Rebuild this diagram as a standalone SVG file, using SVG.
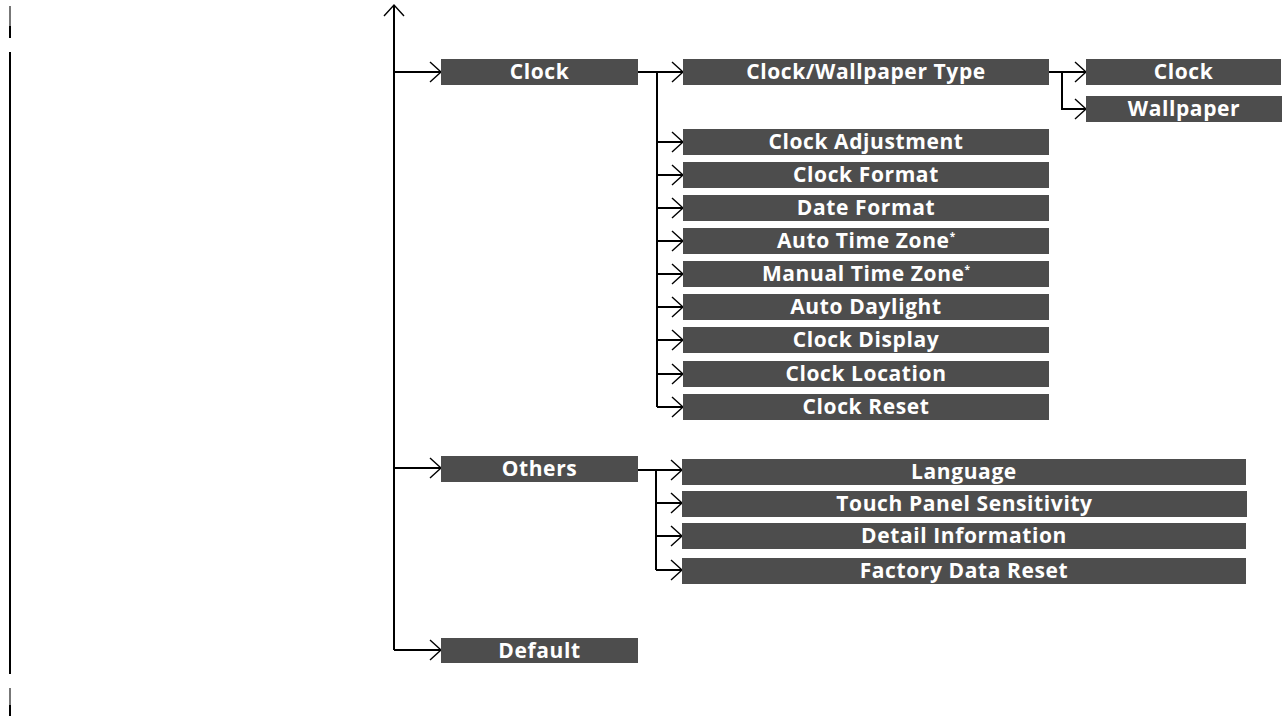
<svg xmlns="http://www.w3.org/2000/svg" width="1287" height="717" viewBox="0 0 1287 717">
<style>
.box{fill:#4d4d4d}
.t{font-family:"Open Sans","Noto Sans","DejaVu Sans",sans-serif;font-weight:bold;font-size:21px;letter-spacing:0.6px;fill:#ffffff;text-anchor:middle}
.sup{font-size:10px;letter-spacing:0}
.ln{fill:none;stroke:#000;stroke-width:2}
.bar{stroke:#000;stroke-width:2}
</style>
<defs>
<marker id="ah" markerUnits="userSpaceOnUse" markerWidth="16" markerHeight="24" viewBox="-13 -12 16 24" refX="0" refY="0" orient="auto">
<path d="M-11,-10 L0,0 L-11,10" fill="none" stroke="#000" stroke-width="1.4"/>
</marker>
</defs>
<rect width="1287" height="717" fill="#ffffff"/>
<g id="margin-bar">
<line x1="10" y1="6" x2="10" y2="26" stroke="#777" stroke-width="2"/>
<line class="bar" x1="10" y1="26" x2="10" y2="38"/>
<line class="bar" x1="10" y1="52" x2="10" y2="674"/>
<line x1="10" y1="688" x2="10" y2="705" stroke="#777" stroke-width="2"/>
<line class="bar" x1="10" y1="705" x2="10" y2="716"/>
</g>
<g id="connectors">
<path class="ln" d="M394,650 V5" marker-end="url(#ah)"/>
<path class="ln" d="M394,72 H441" marker-end="url(#ah)"/>
<path class="ln" d="M394,468 H441" marker-end="url(#ah)"/>
<path class="ln" d="M394,650 H441" marker-end="url(#ah)"/>
<path class="ln" d="M638,72 H683" marker-end="url(#ah)"/>
<path class="ln" d="M657,72 V407"/>
<path class="ln" d="M657,142 H683" marker-end="url(#ah)"/>
<path class="ln" d="M657,175 H683" marker-end="url(#ah)"/>
<path class="ln" d="M657,208 H683" marker-end="url(#ah)"/>
<path class="ln" d="M657,241 H683" marker-end="url(#ah)"/>
<path class="ln" d="M657,274 H683" marker-end="url(#ah)"/>
<path class="ln" d="M657,307 H683" marker-end="url(#ah)"/>
<path class="ln" d="M657,340 H683" marker-end="url(#ah)"/>
<path class="ln" d="M657,374 H683" marker-end="url(#ah)"/>
<path class="ln" d="M657,407 H683" marker-end="url(#ah)"/>
<path class="ln" d="M1049,72 H1086" marker-end="url(#ah)"/>
<path class="ln" d="M1062,72 V109 H1086" marker-end="url(#ah)"/>
<path class="ln" d="M638,470 H682" marker-end="url(#ah)"/>
<path class="ln" d="M656,470 V570"/>
<path class="ln" d="M656,503 H682" marker-end="url(#ah)"/>
<path class="ln" d="M656,536 H682" marker-end="url(#ah)"/>
<path class="ln" d="M656,570 H682" marker-end="url(#ah)"/>
</g>
<g id="n-clock"><rect class="box" x="441" y="59" width="197" height="26"/><text class="t" x="539.5" y="79">Clock</text></g>
<g id="n-others"><rect class="box" x="441" y="456" width="197" height="26"/><text class="t" x="539.5" y="476">Others</text></g>
<g id="n-default"><rect class="box" x="441" y="638" width="197" height="25"/><text class="t" x="539.5" y="657.5">Default</text></g>
<g id="n-clock-wallpaper-type"><rect class="box" x="683" y="59" width="366" height="26"/><text class="t" x="866" y="79">Clock/Wallpaper Type</text></g>
<g id="n-clock-adjustment"><rect class="box" x="683" y="129" width="366" height="26"/><text class="t" x="866" y="149">Clock Adjustment</text></g>
<g id="n-clock-format"><rect class="box" x="683" y="162" width="366" height="26"/><text class="t" x="866" y="182">Clock Format</text></g>
<g id="n-date-format"><rect class="box" x="683" y="195" width="366" height="26"/><text class="t" x="866" y="215">Date Format</text></g>
<g id="n-auto-time-zone"><rect class="box" x="683" y="228" width="366" height="26"/><text class="t" x="866" y="248">Auto Time Zone<tspan class="sup" dy="-8">*</tspan></text></g>
<g id="n-manual-time-zone"><rect class="box" x="683" y="261" width="366" height="26"/><text class="t" x="866" y="281">Manual Time Zone<tspan class="sup" dy="-8">*</tspan></text></g>
<g id="n-auto-daylight"><rect class="box" x="683" y="294" width="366" height="26"/><text class="t" x="866" y="314">Auto Daylight</text></g>
<g id="n-clock-display"><rect class="box" x="683" y="327" width="366" height="26"/><text class="t" x="866" y="347">Clock Display</text></g>
<g id="n-clock-location"><rect class="box" x="683" y="361" width="366" height="26"/><text class="t" x="866" y="381">Clock Location</text></g>
<g id="n-clock-reset"><rect class="box" x="683" y="394" width="366" height="26"/><text class="t" x="866" y="414">Clock Reset</text></g>
<g id="n-clock-3"><rect class="box" x="1086" y="59" width="195" height="26"/><text class="t" x="1183.5" y="79">Clock</text></g>
<g id="n-wallpaper"><rect class="box" x="1086" y="96" width="196" height="26"/><text class="t" x="1184" y="116">Wallpaper</text></g>
<g id="n-language"><rect class="box" x="682" y="459" width="564" height="26"/><text class="t" x="964" y="479">Language</text></g>
<g id="n-touch-panel-sensitivity"><rect class="box" x="682" y="491" width="565" height="26"/><text class="t" x="964.5" y="511">Touch Panel Sensitivity</text></g>
<g id="n-detail-information"><rect class="box" x="682" y="523" width="564" height="26"/><text class="t" x="964" y="543">Detail Information</text></g>
<g id="n-factory-data-reset"><rect class="box" x="682" y="558" width="564" height="26"/><text class="t" x="964" y="578">Factory Data Reset</text></g>
</svg>
